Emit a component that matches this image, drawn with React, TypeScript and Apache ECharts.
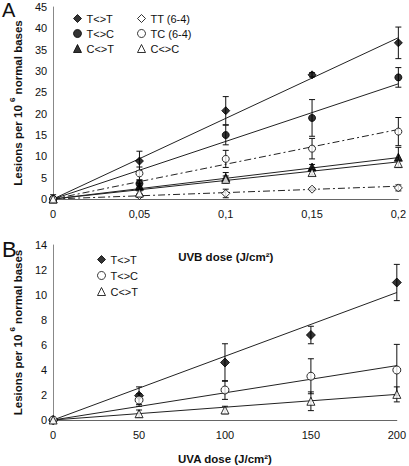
import React, { useEffect, useRef } from "react";
import * as echarts from "echarts";

// ---------- Panel A (UVB) ----------
const doseA = [0, 0.05, 0.1, 0.15, 0.2];
const xLabelsA = ["0", "0,05", "0,1", "0,15", "0,2"];
const ttA = [0, 8.9, 20.7, 29.1, 36.6];
const ttAErr = [1.0, 2.3, 3.3, 0.5, 3.7];
const tcA = [0, 3.6, 15.0, 19.0, 28.5];
const tcAErr = [0.5, 0.8, 2.3, 4.3, 2.3];
const ctA = [0, 3.0, 5.0, 7.5, 9.8];
const ctAErr = [0.3, 0.7, 1.2, 0.6, 2.3];
const tt64A = [0, 0.8, 1.3, 2.3, 2.6];
const tt64AErr = [0.2, 0.4, 1.0, 0.3, 0.7];
const tc64A = [0, 6.0, 9.4, 11.8, 15.8];
const tc64AErr = [0.3, 1.5, 2.0, 2.4, 3.3];
const ccA = [0, 1.4, 4.6, 6.2, 8.3];
const ccAErr = [0.3, 0.5, 0.8, 0.6, 0.8];
// linear fit values at dose 0 and dose 0.2
const ttAFit = [0, 37.8];
const tcAFit = [0, 27.0];
const ctAFit = [0, 9.7];
const tt64AFit = [0, 3.0];
const tc64AFit = [0, 16.3];
const ccAFit = [0, 8.7];

// ---------- Panel B (UVA) ----------
const doseB = [0, 50, 100, 150, 200];
const ttB = [0, 1.95, 4.6, 6.8, 11.0];
const ttBErr = [0.1, 0.7, 1.5, 0.7, 1.45];
const tcB = [0, 1.6, 2.4, 3.5, 4.0];
const tcBErr = [0.05, 0.5, 0.75, 1.4, 2.05];
const ctB = [0, 0.5, 0.8, 1.5, 2.05];
const ctBErr = [0.05, 0.3, 0.3, 0.75, 0.6];
const ttBFit = [0, 10.2];
const tcBFit = [0, 4.35];
const ctBFit = [0, 2.05];

const FONT = "Liberation Sans, Arial, sans-serif";
const INK = "#111";
const DASHDOT = [7, 3, 2, 3];

type Spec = {
  name: string;
  symbol: string;
  size: number;
  filled: boolean;
  values: number[];
  err: number[];
  fit: number[];
  dashed: boolean;
};

const specsA: Spec[] = [
  { name: "T<>T", symbol: "diamond", size: 8, filled: true, values: ttA, err: ttAErr, fit: ttAFit, dashed: false },
  { name: "T<>C", symbol: "circle", size: 7, filled: true, values: tcA, err: tcAErr, fit: tcAFit, dashed: false },
  { name: "C<>T", symbol: "triangle", size: 8, filled: true, values: ctA, err: ctAErr, fit: ctAFit, dashed: false },
  { name: "TT (6-4)", symbol: "diamond", size: 8, filled: false, values: tt64A, err: tt64AErr, fit: tt64AFit, dashed: true },
  { name: "TC (6-4)", symbol: "circle", size: 7, filled: false, values: tc64A, err: tc64AErr, fit: tc64AFit, dashed: true },
  { name: "C<>C", symbol: "triangle", size: 8, filled: false, values: ccA, err: ccAErr, fit: ccAFit, dashed: false },
];

const specsB: Spec[] = [
  { name: "T<>T", symbol: "diamond", size: 9, filled: true, values: ttB, err: ttBErr, fit: ttBFit, dashed: false },
  { name: "T<>C", symbol: "circle", size: 8, filled: false, values: tcB, err: tcBErr, fit: tcBFit, dashed: false },
  { name: "C<>T", symbol: "triangle", size: 8, filled: false, values: ctB, err: ctBErr, fit: ctBFit, dashed: false },
];

function markerStyle(filled: boolean) {
  return filled
    ? { color: "#000", borderColor: "#000", borderWidth: 1 }
    : { color: "#fff", borderColor: "#000", borderWidth: 1 };
}

function buildSeries(specs: Spec[], doses: number[], gi: number, tag: string) {
  const out: any[] = [];
  const xmax = doses[doses.length - 1];
  specs.forEach((s, k) => {
    out.push({
      type: "line",
      name: `fit-${tag}-${k}`,
      xAxisIndex: gi,
      yAxisIndex: gi,
      data: [
        [doses[0], s.fit[0]],
        [xmax, s.fit[1]],
      ],
      symbol: "none",
      silent: true,
      lineStyle: { color: "#222", width: 1, type: s.dashed ? DASHDOT : "solid" },
      z: 2,
    });
    out.push({
      type: "custom",
      name: `err-${tag}-${k}`,
      xAxisIndex: gi,
      yAxisIndex: gi,
      silent: true,
      encode: { x: 0, y: [1, 2] },
      data: doses.map((d, i) => [d, s.values[i] + s.err[i], Math.max(0, s.values[i] - s.err[i])]),
      renderItem: (_p: any, api: any) => {
        const x = api.value(0);
        const p1 = api.coord([x, api.value(1)]);
        const p2 = api.coord([x, api.value(2)]);
        const hw = 3;
        const st = { stroke: INK, lineWidth: 1 };
        return {
          type: "group",
          children: [
            { type: "line", shape: { x1: p1[0], y1: p1[1], x2: p2[0], y2: p2[1] }, style: st },
            { type: "line", shape: { x1: p1[0] - hw, y1: p1[1], x2: p1[0] + hw, y2: p1[1] }, style: st },
            { type: "line", shape: { x1: p2[0] - hw, y1: p2[1], x2: p2[0] + hw, y2: p2[1] }, style: st },
          ],
        };
      },
      z: 3,
    });
    out.push({
      type: "scatter",
      name: s.name,
      xAxisIndex: gi,
      yAxisIndex: gi,
      symbol: s.symbol,
      symbolSize: s.size,
      itemStyle: markerStyle(s.filled),
      data: doses.map((d, i) => [d, s.values[i]]),
      z: 4,
    });
  });
  return out;
}

function legendItems(specs: Spec[]) {
  return specs.map((s) => ({
    name: s.name,
    icon: s.symbol,
    itemStyle: markerStyle(s.filled),
  }));
}

const yName = "{b|Lesions per 10 }{s|6}{b| normal bases}";
const yNameStyle = {
  rich: {
    b: { fontSize: 11.5, fontWeight: "bold", fontFamily: FONT, color: INK, lineHeight: 16, verticalAlign: "bottom" },
    s: { fontSize: 8, fontWeight: "bold", fontFamily: FONT, color: INK, lineHeight: 16, verticalAlign: "top" },
  },
};

function yAxis(gi: number, max: number, interval: number) {
  return {
    type: "value",
    gridIndex: gi,
    min: 0,
    max,
    interval,
    name: yName,
    nameLocation: "middle",
    nameRotate: 90,
    nameGap: 24,
    nameTextStyle: yNameStyle,
    axisLine: { show: true, lineStyle: { color: "#888", width: 1 } },
    axisTick: { show: false },
    splitLine: { show: false },
    axisLabel: { fontSize: 11, color: INK, fontFamily: FONT, margin: 6 },
  };
}

function xAxis(gi: number, max: number, interval: number, labels: string[], name: string, gap: number) {
  return {
    type: "value",
    gridIndex: gi,
    min: 0,
    max,
    interval,
    name,
    nameLocation: "middle",
    nameGap: gap,
    nameTextStyle: { fontSize: 11.5, fontWeight: "bold", fontFamily: FONT, color: INK },
    axisLine: { show: true, lineStyle: { color: "#666", width: 1 } },
    axisTick: { show: false },
    splitLine: { show: false },
    axisLabel: {
      fontSize: 11,
      color: INK,
      fontFamily: FONT,
      margin: 9,
      formatter: (_v: number, idx: number) => labels[idx] ?? "",
    },
  };
}

const legendText = { fontSize: 11, color: INK, fontFamily: FONT, lineHeight: 13 };

export default function App() {
  const ref = useRef<HTMLDivElement>(null);
  useEffect(() => {
    if (!ref.current) return;
    const chart = echarts.init(ref.current, undefined, { renderer: "svg" });
    chart.setOption({
      animation: false,
      backgroundColor: "#fff",
      grid: [
        { left: 46, top: 7, width: 356, height: 192 },
        { left: 47, top: 245, width: 353, height: 180 },
      ],
      xAxis: [
        xAxis(0, 0.2, 0.05, xLabelsA, "UVB dose (J/cm²)", 52),
        xAxis(1, 200, 50, doseB.map(String), "UVA dose (J/cm²)", 33),
      ],
      yAxis: [yAxis(0, 45, 5), yAxis(1, 14, 2)],
      legend: [
        {
          orient: "vertical",
          left: 68,
          top: 7,
          itemWidth: 8,
          itemHeight: 8,
          itemGap: 2,
          selectedMode: false,
          textStyle: legendText,
          data: legendItems(specsA.slice(0, 3)),
        },
        {
          orient: "vertical",
          left: 132,
          top: 7,
          itemWidth: 8,
          itemHeight: 8,
          itemGap: 2,
          selectedMode: false,
          textStyle: legendText,
          data: legendItems(specsA.slice(3)),
        },
        {
          orient: "vertical",
          left: 92,
          top: 248,
          itemWidth: 8,
          itemHeight: 8,
          itemGap: 3,
          selectedMode: false,
          textStyle: legendText,
          data: legendItems(specsB),
        },
      ],
      graphic: [
        { type: "text", left: 2, top: 0, style: { text: "A", fontSize: 20, fontFamily: FONT, fill: INK } },
        { type: "text", left: 2, top: 238, style: { text: "B", fontSize: 22, fontFamily: FONT, fill: INK } },
      ],
      series: [...buildSeries(specsA, doseA, 0, "A"), ...buildSeries(specsB, doseB, 1, "B")],
    });
    return () => chart.dispose();
  }, []);
  return (
    <div
      ref={ref}
      style={{ position: "fixed", left: 0, top: 0, width: 409, height: 466, background: "#fff" }}
    />
  );
}
